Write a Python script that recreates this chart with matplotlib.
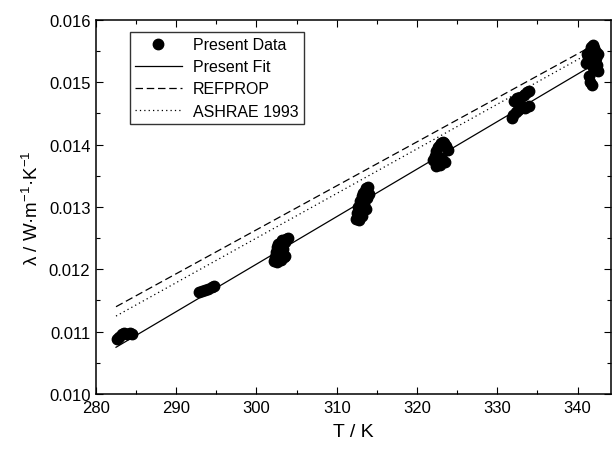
import matplotlib
matplotlib.use('Agg')

import matplotlib.pyplot as plt
from matplotlib.ticker import MultipleLocator, FormatStrFormatter

plt.rcParams['font.family'] = ['Liberation Sans', 'DejaVu Sans']
plt.rcParams['mathtext.fontset'] = 'custom'
plt.rcParams['mathtext.rm'] = 'Liberation Sans'
plt.rcParams['mathtext.it'] = 'Liberation Sans'

# measured points (T in K, lambda in W/m/K)
data_T = [282.6, 282.9, 283.2, 283.5, 283.9, 284.2, 284.5,
          292.8, 293.2, 293.6, 294.0, 294.4, 294.7,
          302.2, 302.3, 302.4, 302.6, 302.8, 302.9, 303.1, 303.3, 303.5,
          303.7, 303.9, 302.5, 303.0, 303.4, 302.7, 303.6, 303.2,
          312.4, 312.5, 312.7, 312.9, 313.1, 313.3, 313.5, 313.7, 313.9,
          314.0, 312.6, 313.0, 313.4, 313.8, 312.8, 313.2, 313.6,
          322.0, 322.2, 322.4, 322.6, 322.8, 323.0, 323.2, 323.4, 323.6,
          323.9, 322.3, 322.9, 323.5, 322.5, 323.1,
          331.8, 332.0, 332.3, 332.6, 332.9, 333.2, 333.5, 333.9,
          332.1, 332.5, 332.9, 333.3, 333.7, 333.9,
          341.1, 341.3, 341.5, 341.7, 341.9, 342.1, 342.3, 342.6, 341.4,
          341.6, 341.8, 342.0, 342.2, 342.4, 341.2, 342.5, 341.9, 342.3]
data_k = [0.01088, 0.01092, 0.01097, 0.01098, 0.01096, 0.01098, 0.01097,
          0.01163, 0.01165, 0.01167, 0.01169, 0.01172, 0.01174,
          0.01213, 0.01220, 0.01228, 0.01236, 0.01217, 0.01242, 0.01225,
          0.01232, 0.01244, 0.01248, 0.01250, 0.01211, 0.01215, 0.01219,
          0.01240, 0.01222, 0.01247,
          0.01280, 0.01290, 0.01300, 0.01310, 0.01318, 0.01322, 0.01326,
          0.01330, 0.01332, 0.01320, 0.01284, 0.01294, 0.01305, 0.01315,
          0.01279, 0.01286, 0.01296,
          0.01375, 0.01382, 0.01390, 0.01396, 0.01400, 0.01403, 0.01404,
          0.01402, 0.01398, 0.01392, 0.01366, 0.01368, 0.01372, 0.01384,
          0.01377,
          0.01442, 0.01448, 0.01452, 0.01455, 0.01458, 0.01460, 0.01459,
          0.01462, 0.01470, 0.01474, 0.01477, 0.01480, 0.01484, 0.01486,
          0.01530, 0.01540, 0.01550, 0.01556, 0.01559, 0.01555, 0.01548,
          0.01545, 0.01510, 0.01500, 0.01496, 0.01520, 0.01535, 0.01528,
          0.01545, 0.01518, 0.01525, 0.01538]

# correlations, end points
line_T = [282.5, 342.5]
fit_k = [0.01075, 0.01532]
refprop_k = [0.01140, 0.01563]
ashrae_k = [0.01125, 0.01554]


def run():
    fig = plt.figure(figsize=(6.15, 4.52), dpi=100)
    ax = fig.add_axes([0.156, 0.126, 0.838, 0.828])

    ax.plot(data_T, data_k, 'o', color='black', markersize=7.5,
            linestyle='none', label='Present Data')
    ax.plot(line_T, fit_k, '-', color='black', lw=0.9, label='Present Fit')
    ax.plot(line_T, refprop_k, color='black', lw=0.9,
            dashes=(6, 3), label='REFPROP')
    ax.plot(line_T, ashrae_k, color='black', lw=0.9,
            dashes=(1, 2.5), label='ASHRAE 1993')

    ax.set_xlim(280, 344.2)
    ax.set_ylim(0.010, 0.016)
    ax.xaxis.set_major_locator(MultipleLocator(10))
    ax.xaxis.set_minor_locator(MultipleLocator(5))
    ax.yaxis.set_major_locator(MultipleLocator(0.001))
    ax.yaxis.set_minor_locator(MultipleLocator(0.0005))
    ax.yaxis.set_major_formatter(FormatStrFormatter('%.3f'))
    ax.tick_params(which='both', direction='in', top=True, right=True,
                   labelsize=12, width=0.8, pad=4)
    ax.tick_params(which='major', length=5)
    ax.tick_params(which='minor', length=3)
    for s in ax.spines.values():
        s.set_linewidth(1.1)

    ax.set_xlabel('T / K', fontsize=14, labelpad=6)
    ax.set_ylabel('λ / W·m$^{-1}$·K$^{-1}$', fontsize=13.5, labelpad=5)

    leg = ax.legend(loc='upper left', bbox_to_anchor=(0.05, 0.99),
                    fontsize=11.5, frameon=True, fancybox=False,
                    edgecolor='black', handlelength=2.9, borderpad=0.35,
                    labelspacing=0.45, handletextpad=0.7)
    leg.get_frame().set_linewidth(1.0)

    return fig


def main():
    fig = run()
    fig.savefig('out.png', dpi=100)


if __name__ == '__main__':
    main()
